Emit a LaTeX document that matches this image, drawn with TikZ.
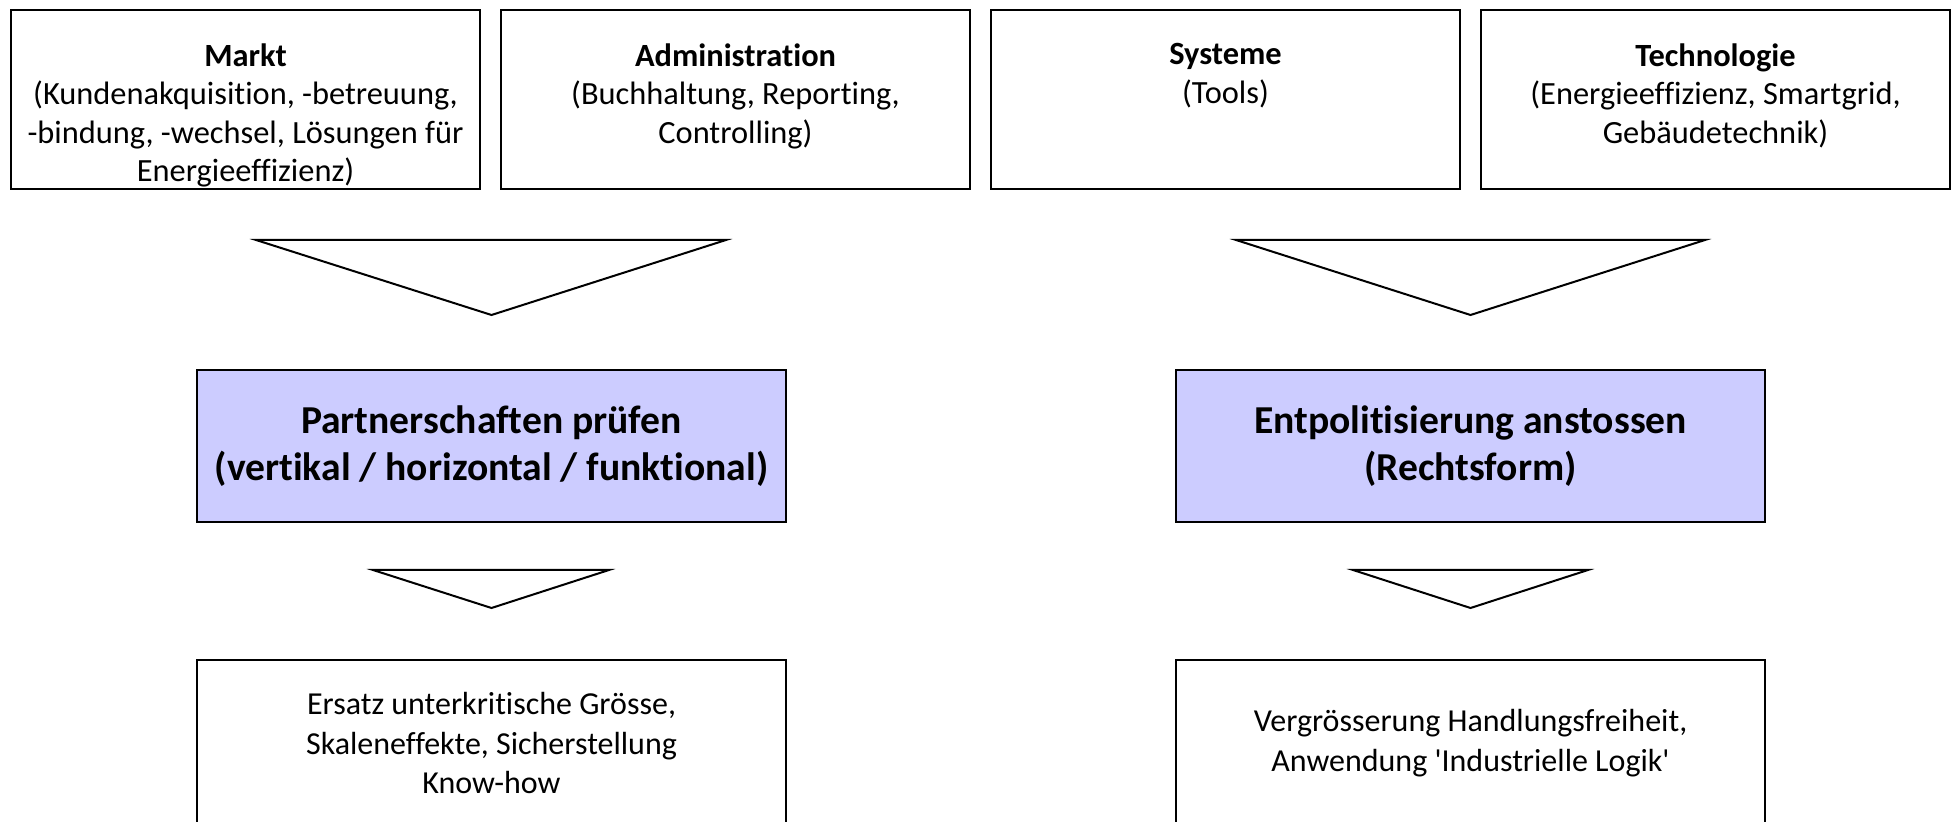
\documentclass[tikz,border=0pt]{standalone}
\usepackage{fontspec}
\setmainfont{Carlito}[Ligatures={NoCommon}]
\definecolor{lilac}{RGB}{204,204,255}

\begin{document}
\begin{tikzpicture}[x=0.5pt, y=-0.5pt,
    cat/.style={draw, line width=1pt, minimum width=234.5pt, minimum height=89.5pt, inner sep=0pt},
    cattext/.style={anchor=north, align=center, inner sep=0pt, font=\fontsize{16.2}{19.3}\selectfont},
    goal/.style={draw, line width=1pt, fill=lilac, minimum width=294.5pt, minimum height=76pt, align=center, font=\bfseries\fontsize{19.8}{23.8}\selectfont},
    effect/.style={draw, line width=1pt, minimum width=294.5pt, minimum height=83pt, align=center, font=\fontsize{16}{19.8}\selectfont},
    funnel/.style={draw, line width=1pt, fill=white, line join=miter}]
    \useasboundingbox (0,0) rectangle (1952,822);
    % top row
    \node[cat] (markt) at (245.5,99.5) {};
    \node[cat] (admin) at (735.5,99.5) {};
    \node[cat] (systeme) at (1225.5,99.5) {};
    \node[cat] (tech) at (1715.5,99.5) {};
    \node[cattext] (markttxt) at ([yshift=-17pt]markt.north) {\textbf{Markt}\\(Kundenakquisition, -betreuung,\\-bindung, -wechsel, Lösungen für\\Energieeffizienz)};
    \node[cattext] (admintxt) at ([yshift=-17pt]admin.north) {\textbf{Administration}\\(Buchhaltung, Reporting,\\Controlling)};
    \node[cattext] (systemetxt) at ([yshift=-17pt]systeme.north) {\textbf{Systeme}\\(Tools)};
    \node[cattext] (techtxt) at ([yshift=-17pt]tech.north) {\textbf{Technologie}\\(Energieeffizienz, Smartgrid,\\Gebäudetechnik)};
    % funnels
    \draw[funnel] (256,240) -- (726,240) -- (491.5,315) -- cycle;
    \draw[funnel] (1236,240) -- (1705,240) -- (1470.5,315) -- cycle;
    % middle row
    \node[goal] (partner) at (491.5,446) {Partnerschaften prüfen\\(vertikal / horizontal / funktional)};
    \node[goal] (entpol) at (1470.5,446) {Entpolitisierung anstossen\\(Rechtsform)};
    \draw[funnel] (373,570) -- (609,570) -- (491.5,608) -- cycle;
    \draw[funnel] (1353,570) -- (1588,570) -- (1470.5,608) -- cycle;
    % bottom row
    \node[effect] (ersatz) at (491.5,743) {Ersatz unterkritische Grösse,\\Skaleneffekte, Sicherstellung\\Know-how};
    \node[effect] (freiheit) at (1470.5,743) {Vergrösserung Handlungsfreiheit,\\Anwendung \textquotesingle Industrielle Logik\textquotesingle};
\end{tikzpicture}
\end{document}
